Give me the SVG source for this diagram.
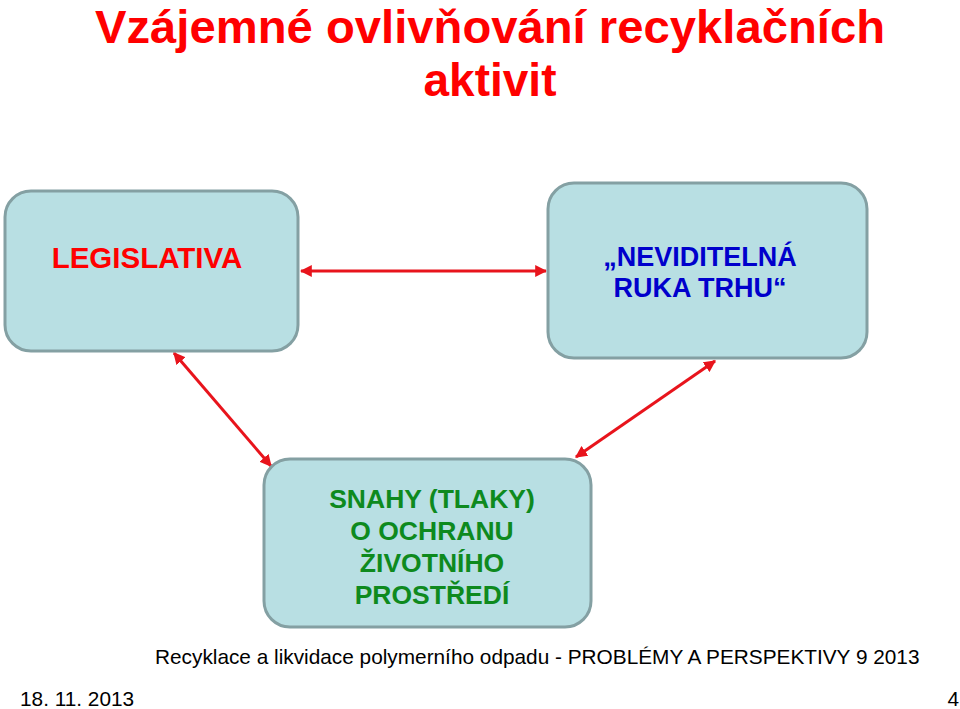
<svg xmlns="http://www.w3.org/2000/svg" width="960" height="709" viewBox="0 0 960 709">
  <defs>
    <style>
      .box { fill: #b8dfe3; stroke: #84a0a3; stroke-width: 3; }
      .lbl { font-family: "Liberation Sans", Arial, sans-serif; font-weight: bold; text-anchor: middle; }
      .title { font-family: "Liberation Sans", Arial, sans-serif; font-weight: bold; font-size: 46px; fill: #ff0000; text-anchor: middle; }
      .foot { font-family: "Liberation Sans", Arial, sans-serif; font-size: 20.8px; fill: #000000; }
      .conn { stroke: #e8141c; stroke-width: 3; fill: none; marker-start: url(#ah); marker-end: url(#ah); }
    </style>
    <marker id="ah" viewBox="0 0 10 10" refX="9" refY="5" markerWidth="4" markerHeight="4" orient="auto-start-reverse" markerUnits="strokeWidth">
      <path d="M0,0 L10,5 L0,10 Z" fill="#e8141c"/>
    </marker>
  </defs>
  <rect width="960" height="709" fill="#ffffff"/>

  <g id="title">
    <text class="title" x="490" y="43" textLength="790" lengthAdjust="spacingAndGlyphs">Vzájemné ovlivňování recyklačních</text>
    <text class="title" x="490" y="96">aktivit</text>
  </g>

  <g id="connectors">
    <line class="conn" x1="301" y1="271" x2="546" y2="271"/>
    <line class="conn" x1="174" y1="353" x2="271" y2="466"/>
    <line class="conn" x1="715" y1="361" x2="576" y2="457"/>
  </g>

  <g id="node-legislativa">
    <rect class="box" x="5" y="191" width="293" height="160" rx="26"/>
    <text class="lbl" x="147" y="268" font-size="29.5" fill="#ff0000">LEGISLATIVA</text>
  </g>

  <g id="node-ruka">
    <rect class="box" x="548" y="183" width="319" height="175" rx="26"/>
    <text class="lbl" x="700" y="266" font-size="27" fill="#0000cc">„NEVIDITELNÁ</text>
    <text class="lbl" x="700" y="297" font-size="27" fill="#0000cc">RUKA TRHU“</text>
  </g>

  <g id="node-snahy">
    <rect class="box" x="264" y="459" width="327" height="168" rx="26"/>
    <text class="lbl" x="432" y="508" font-size="26.5" fill="#0e8a1e">SNAHY (TLAKY)</text>
    <text class="lbl" x="432" y="540" font-size="26.5" fill="#0e8a1e">O OCHRANU</text>
    <text class="lbl" x="432" y="572" font-size="26.5" fill="#0e8a1e">ŽIVOTNÍHO</text>
    <text class="lbl" x="432" y="604" font-size="26.5" fill="#0e8a1e">PROSTŘEDÍ</text>
  </g>

  <g id="footer">
    <text class="foot" x="155" y="664">Recyklace a likvidace polymerního odpadu - PROBLÉMY A PERSPEKTIVY 9 2013</text>
    <text class="foot" x="20" y="706">18. 11. 2013</text>
    <text class="foot" x="959" y="706" text-anchor="end">4</text>
  </g>
</svg>
